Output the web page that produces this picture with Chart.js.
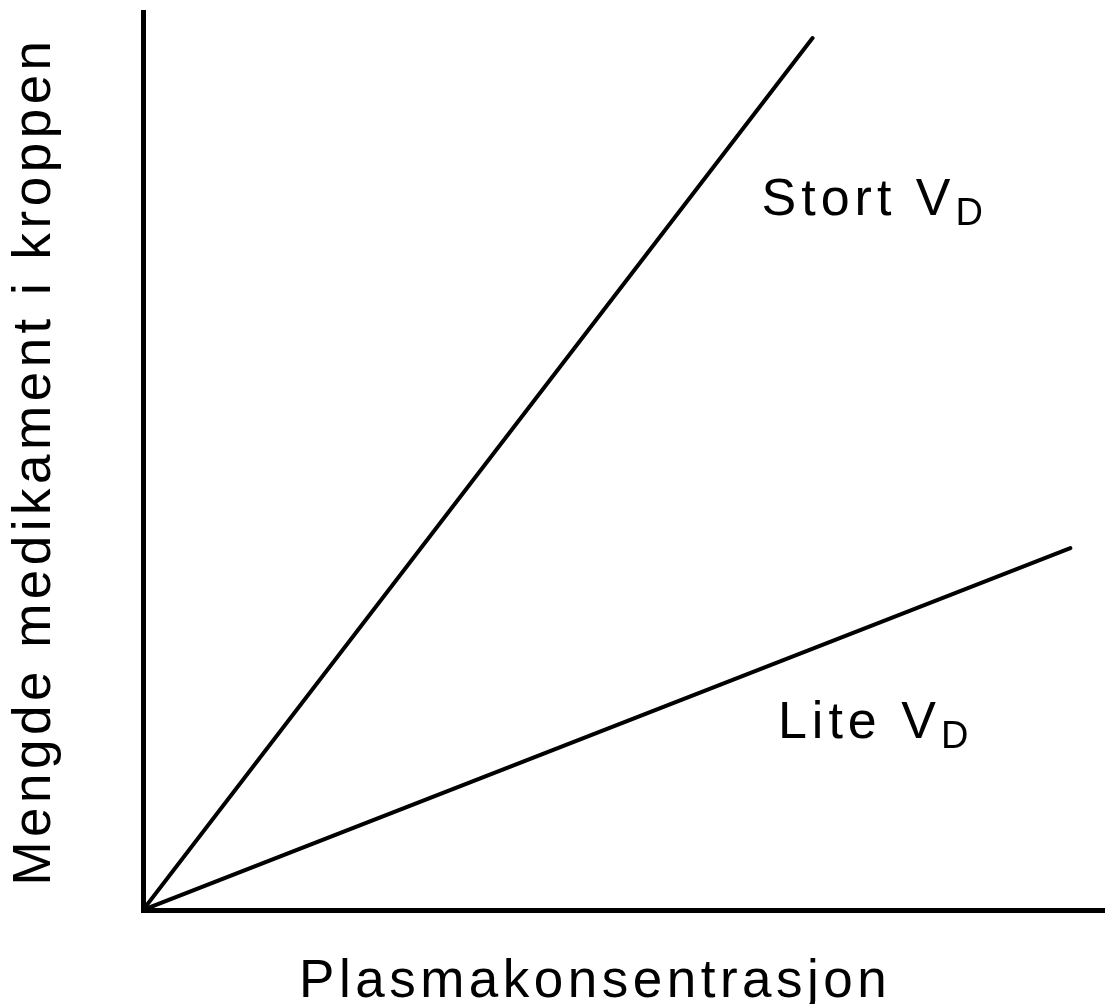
<!DOCTYPE html>
<html>
<head>
<meta charset="utf-8">
<script src="https://cdn.jsdelivr.net/npm/chart.js@4/dist/chart.umd.min.js"></script>
<style>
  html, body { margin: 0; padding: 0; background: #fff; }
  canvas { display: block; }
</style>
</head>
<body>
<canvas id="chart" width="1105" height="1004"></canvas>
<script>
// values (arbitrary units, axes 0..100)
const stortX = [0, 69.6];
const stortY = [0, 97.1];
const liteX = [0, 96.4];
const liteY = [0, 40.3];
const seriesNames = ['Stort', 'Lite'];
const xTitle = 'Plasmakonsentrasjon';
const yTitle = 'Mengde medikament i kroppen';

// where the two line labels sit, in data units
const labelAnchors = [
  { x: 64.3, y: 77.4 },
  { x: 66.0, y: 19.2 }
];

const FONT = '"Liberation Sans", Arial, Helvetica, sans-serif';

function toPoints(xs, ys) {
  return xs.map((x, i) => ({ x: x, y: ys[i] }));
}

// letter spacing for all text, the print has wide tracking
const spacing = {
  id: 'spacing',
  beforeDraw(chart) {
    chart.ctx.letterSpacing = '4.5px';
  }
};

// "Stort VD" / "Lite VD" with a subscript D
const lineLabels = {
  id: 'lineLabels',
  afterDatasetsDraw(chart) {
    const ctx = chart.ctx;
    const xs = chart.scales.x, ys = chart.scales.y;
    ctx.save();
    ctx.fillStyle = '#000';
    ctx.textBaseline = 'alphabetic';
    ctx.textAlign = 'left';
    ctx.letterSpacing = '5px';
    seriesNames.forEach((name, i) => {
      const px = xs.getPixelForValue(labelAnchors[i].x);
      const py = ys.getPixelForValue(labelAnchors[i].y);
      ctx.font = '52px ' + FONT;
      const main = name + ' V';
      ctx.fillText(main, px, py);
      const w = ctx.measureText(main).width;
      ctx.font = '38px ' + FONT;
      ctx.fillText('D', px + w, py + 10);
    });
    ctx.restore();
  }
};

new Chart(document.getElementById('chart'), {
  type: 'line',
  data: {
    datasets: [
      {
        label: seriesNames[0],
        data: toPoints(stortX, stortY),
        borderColor: '#000',
        borderWidth: 4,
        pointRadius: 0,
        borderCapStyle: 'round',
        tension: 0
      },
      {
        label: seriesNames[1],
        data: toPoints(liteX, liteY),
        borderColor: '#000',
        borderWidth: 4,
        pointRadius: 0,
        borderCapStyle: 'round',
        tension: 0
      }
    ]
  },
  options: {
    responsive: false,
    animation: false,
    layout: { padding: { top: 12, right: 0, bottom: 0, left: 0 } },
    plugins: {
      legend: { display: false },
      tooltip: { enabled: false }
    },
    scales: {
      x: {
        type: 'linear',
        min: 0,
        max: 100,
        grid: { display: false, drawTicks: false },
        border: { display: true, color: '#000', width: 5 },
        ticks: { display: false },
        title: {
          display: true,
          // trailing spaces pull the centred title a bit to the left, as in the print
          text: xTitle + '\u00a0\u00a0\u00a0',
          color: '#000',
          font: { family: FONT, size: 53, lineHeight: 0.8 },
          padding: { top: 51.6, bottom: 0 }
        }
      },
      y: {
        type: 'linear',
        min: 0,
        max: 100,
        grid: { display: false, drawTicks: false },
        border: { display: true, color: '#000', width: 5 },
        ticks: { display: false },
        title: {
          display: true,
          text: yTitle,
          color: '#000',
          font: { family: FONT, size: 53, lineHeight: 0.8 },
          padding: { top: 13.8, bottom: 86.8 }
        }
      }
    }
  },
  plugins: [spacing, lineLabels]
});
</script>
</body>
</html>
